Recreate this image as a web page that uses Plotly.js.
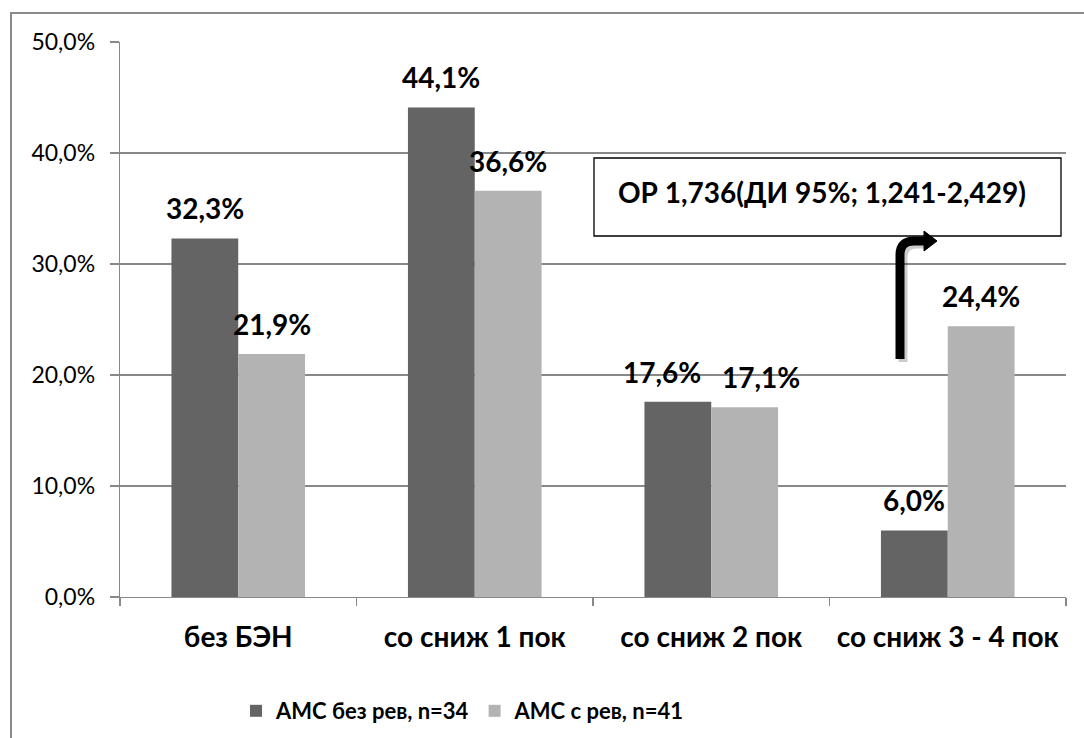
<!DOCTYPE html>
<html>
<head>
<meta charset="utf-8">
<script src="https://cdn.plot.ly/plotly-3.0.1.min.js"></script>
<style>
  html, body { margin: 0; padding: 0; background: #ffffff; }
  #chart { width: 1084px; height: 738px; }
</style>
</head>
<body>
<div id="chart"></div>
<script>
// Categories and series (percent of patients)
const categories = ["без БЭН", "со сниж 1 пок", "со сниж 2 пок", "со сниж 3 - 4 пок"];
const seriesNames = ["АМС без рев, n=34", "АМС с рев, n=41"];
const valuesNoRev = [32.3, 44.1, 17.6, 6.0];
const valuesRev = [21.9, 36.6, 17.1, 24.4];
const yTicks = [0, 10, 20, 30, 40, 50];
const noteText = "ОР 1,736(ДИ 95%; 1,241-2,429)";

const FONT = "Lato, 'Open Sans', sans-serif";
const DARK = "#646464";
const LIGHT = "#b3b3b3";
const GRID = "#888888";

// Plot area in pixels (used to convert the decorations to paper coords)
const W = 1084, H = 738;
const M = { l: 120, r: 18, t: 42, b: 141 };
const PW = W - M.l - M.r, PH = H - M.t - M.b;
const px = x => (x - M.l) / PW;
const py = y => (H - M.b - y) / PH;

const traces = [
  { type: "bar", name: seriesNames[0], x: categories, y: valuesNoRev,
    marker: { color: DARK }, hoverinfo: "skip" },
  { type: "bar", name: seriesNames[1], x: categories, y: valuesRev,
    marker: { color: LIGHT }, hoverinfo: "skip" }
];

const fmt = v => v.toFixed(1).replace(".", ",") + "%";

// Value labels above every bar
const annotations = [];
const halfBar = 33.5;
categories.forEach((c, i) => {
  // near-equal neighbours would collide, so their labels are spread apart
  const spread = (Math.abs(valuesNoRev[i] - valuesRev[i]) < 2) ? 16 : 0;
  annotations.push({ x: c, y: valuesNoRev[i], xref: "x", yref: "y",
    text: "<b>" + fmt(valuesNoRev[i]) + "</b>", showarrow: false,
    xshift: -halfBar - spread, yanchor: "bottom", yshift: 11,
    font: { family: FONT, size: 28, color: "#000" } });
  annotations.push({ x: c, y: valuesRev[i], xref: "x", yref: "y",
    text: "<b>" + fmt(valuesRev[i]) + "</b>", showarrow: false,
    xshift: halfBar + spread, yanchor: "bottom", yshift: 11,
    font: { family: FONT, size: 28, color: "#000" } });
});

// Relative-risk note inside its box
annotations.push({ x: px(616), y: py(192), xref: "paper", yref: "paper",
  xanchor: "left", yanchor: "middle", showarrow: false,
  text: "<b>" + noteText + "</b>",
  font: { family: FONT, size: 28, color: "#000" } });

const shapes = [
  // outer chart frame
  { type: "rect", xref: "paper", yref: "paper",
    x0: px(11), x1: px(1100), y0: py(760), y1: py(13),
    line: { color: "#8a8a8a", width: 2 }, fillcolor: "rgba(0,0,0,0)", layer: "below" },
  // note box
  { type: "rect", xref: "paper", yref: "paper",
    x0: px(594), x1: px(1061), y0: py(236), y1: py(158),
    line: { color: "#000", width: 1.3 }, fillcolor: "#ffffff" },
  // bent arrow shadow
  { type: "path", xref: "paper", yref: "paper",
    path: `M ${px(903)} ${py(362)} L ${px(903)} ${py(258)} Q ${px(903)} ${py(244)} ${px(917)} ${py(244)} L ${px(928)} ${py(244)}`,
    line: { color: "rgba(0,0,0,0.2)", width: 9 } },
  // bent arrow
  { type: "path", xref: "paper", yref: "paper",
    path: `M ${px(900)} ${py(359)} L ${px(900)} ${py(255)} Q ${px(900)} ${py(241)} ${px(914)} ${py(241)} L ${px(926)} ${py(241)}`,
    line: { color: "#000", width: 9 } },
  // arrow head
  { type: "path", xref: "paper", yref: "paper",
    path: `M ${px(924)} ${py(231)} L ${px(937)} ${py(241)} L ${px(924)} ${py(251)} Z`,
    line: { color: "#000", width: 1 }, fillcolor: "#000" }
];

const layout = {
  width: W, height: H,
  margin: M,
  paper_bgcolor: "#ffffff", plot_bgcolor: "#ffffff",
  separators: ", ",
  barmode: "group",
  bargap: 0.435, bargroupgap: 0,
  font: { family: FONT, color: "#000" },
  showlegend: true,
  legend: { orientation: "h", xref: "container", yref: "container",
    x: 236 / W, xanchor: "left", y: 1 - 690 / H, yanchor: "top",
    font: { family: FONT, size: 22, color: "#000", weight: "bold" },
    itemwidth: 30, traceorder: "normal" },
  xaxis: {
    type: "category", range: [-0.5, 3.5],
    showgrid: false, showline: true, linecolor: GRID, linewidth: 1.3,
    ticks: "outside", ticklen: 8, tickcolor: GRID, tickwidth: 1.3,
    tickson: "boundaries", ticklabelstandoff: 15,
    tickfont: { family: FONT, size: 28, color: "#000", weight: "bold" },
    zeroline: false, fixedrange: true, automargin: false
  },
  yaxis: {
    range: [0, 50], tickvals: yTicks,
    ticktext: yTicks.map(v => v.toFixed(1).replace(".", ",") + "%"),
    showgrid: true, gridcolor: GRID, gridwidth: 1.3,
    showline: true, linecolor: GRID, linewidth: 1.3,
    ticks: "outside", ticklen: 9, tickcolor: GRID, tickwidth: 1.3,
    ticklabelstandoff: 10,
    tickfont: { family: FONT, size: 23, color: "#000" },
    zeroline: false, fixedrange: true, automargin: false
  },
  annotations: annotations,
  shapes: shapes
};

Plotly.newPlot("chart", traces, layout, { displayModeBar: false, staticPlot: true });
</script>
</body>
</html>
